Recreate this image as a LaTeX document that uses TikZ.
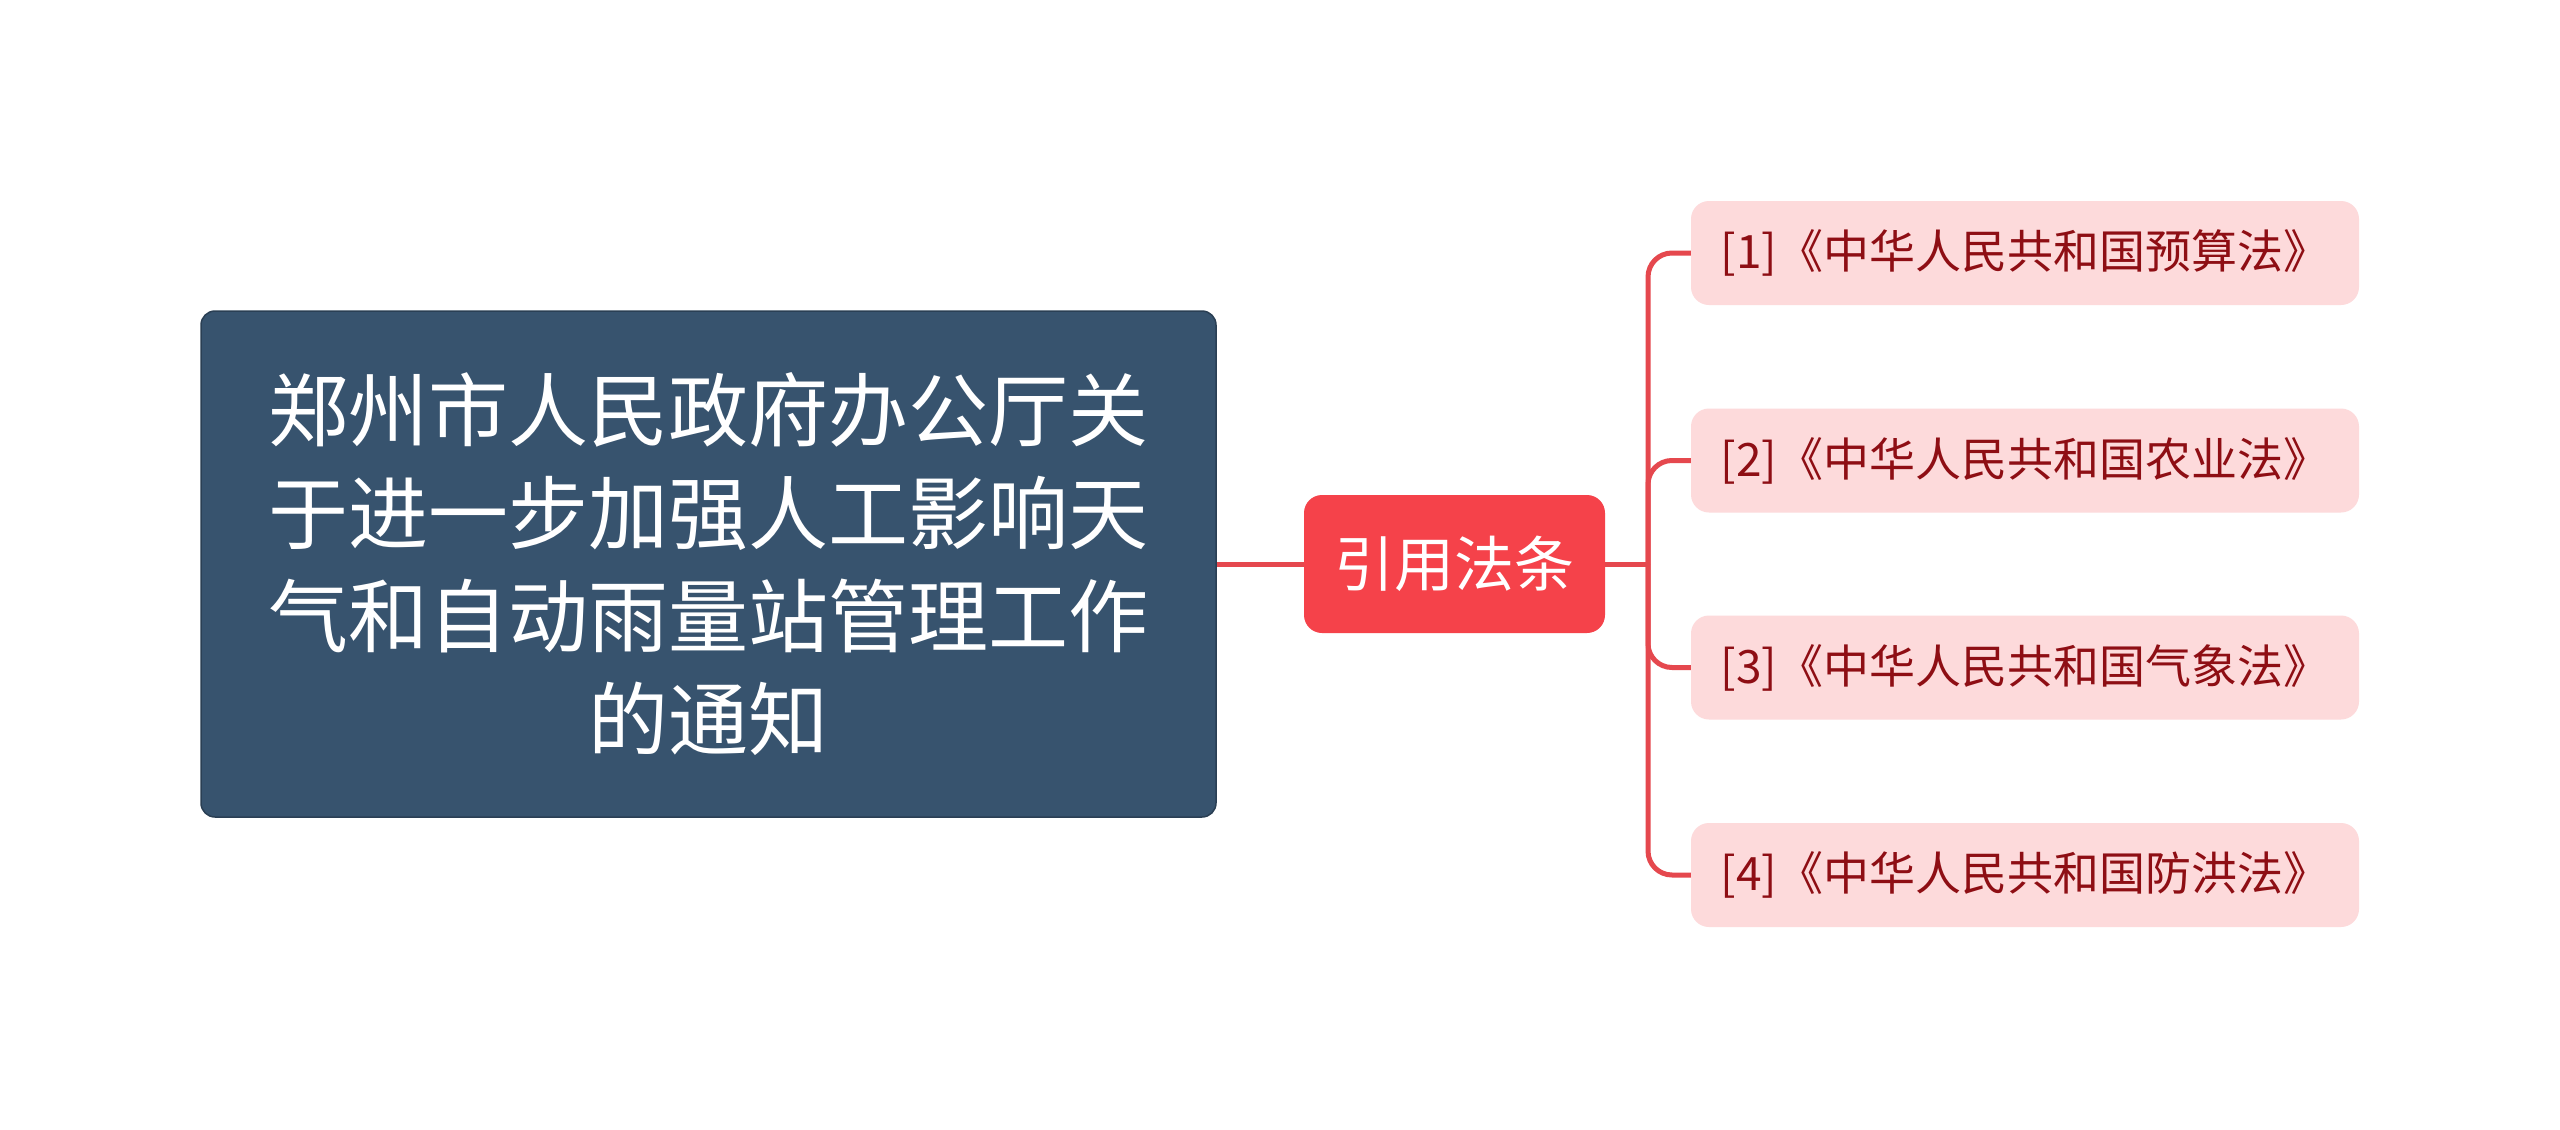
\documentclass[tikz,border=0pt]{standalone}
\usepackage{fontspec}
\newfontfamily\cjk{Noto Sans CJK SC}
\definecolor{mainfill}{HTML}{37536E}
\definecolor{mainedge}{HTML}{2A3F54}
\definecolor{midfill}{HTML}{F5424A}
\definecolor{leaffill}{HTML}{FDDADB}
\definecolor{leaftext}{HTML}{8E0E14}
\definecolor{connred}{HTML}{E5484E}
\tikzset{
  mainbox/.style={draw=mainedge, line width=1.5pt, fill=mainfill, rounded corners=14pt,
    minimum width=1015pt, minimum height=506pt, text=white, align=center, inner sep=0pt,
    font=\cjk\fontsize{80}{103}\selectfont},
  midbox/.style={fill=midfill, rounded corners=18pt, minimum width=301pt, minimum height=138pt,
    text=white, inner sep=0pt, font=\cjk\fontsize{60}{70}\selectfont},
  leafbox/.style={fill=leaffill, rounded corners=18pt, minimum width=668pt, minimum height=104pt,
    text=leaftext, inner sep=0pt, font=\cjk\fontsize{46}{52}\selectfont},
  conn/.style={draw=connred, line width=5pt},
}
\begin{document}
\begin{tikzpicture}[x=1pt,y=-1pt]
\useasboundingbox[fill=white] (0,0) rectangle (2560,1130);
\node[mainbox] (main) at (708.5,564) {郑州市人民政府办公厅关\\于进一步加强人工影响天\\气和自动雨量站管理工作\\的通知};
\node[midbox] (mid) at (1454.5,564) {引用法条};
\node[leafbox] (l1) at (2025,253) {[1]《中华人民共和国预算法》};
\node[leafbox] (l2) at (2025,460.5) {[2]《中华人民共和国农业法》};
\node[leafbox] (l3) at (2025,667.5) {[3]《中华人民共和国气象法》};
\node[leafbox] (l4) at (2025,875) {[4]《中华人民共和国防洪法》};
\coordinate (bx) at (1648,564);
\draw[conn] (main.east) -- (mid.west);
\draw[conn] (mid.east) -- (bx);
\foreach \n in {l1,l2,l3,l4}{
  \draw[conn, rounded corners=24pt] (bx) |- (\n.west);
}
\end{tikzpicture}
\end{document}
